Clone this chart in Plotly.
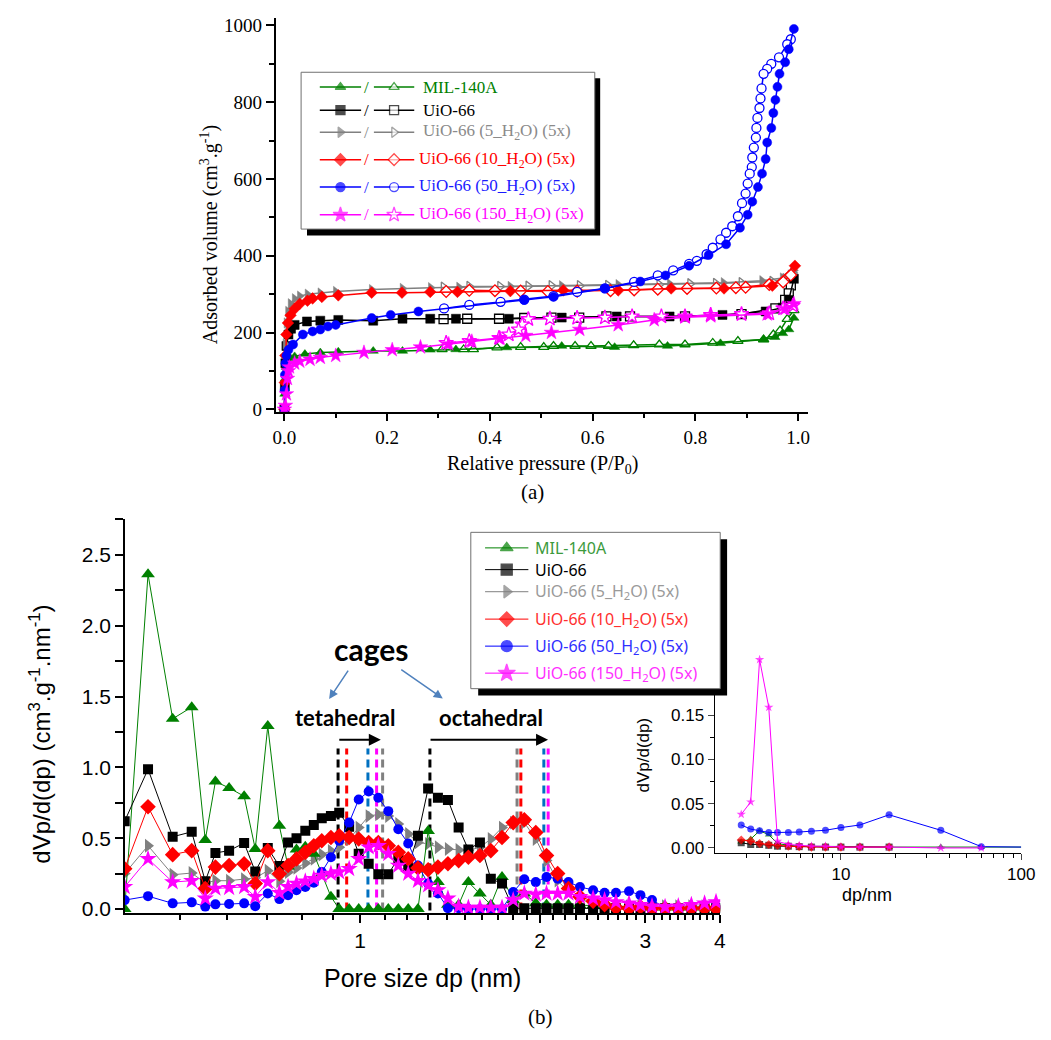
import plotly.graph_objects as go

W, H = 1051, 1040

# ================= (a) N2 isotherms: adsorption (filled) / desorption (open) =================
mil_ads_p = [0.0, 0.001, 0.002, 0.004, 0.007, 0.012, 0.02, 0.04, 0.07, 0.105, 0.173, 0.23, 0.284, 0.334, 0.433, 0.54, 0.643, 0.746, 0.849, 0.933, 0.955, 0.97, 0.982, 0.992]
mil_ads_v = [0, 40, 80, 110, 125, 133, 138, 144, 148, 150, 152, 152, 155, 156, 161, 165, 162, 165, 172, 182, 188, 198, 208, 238]
mil_des_p = [0.992, 0.979, 0.965, 0.952, 0.933, 0.883, 0.834, 0.78, 0.73, 0.68, 0.631, 0.597, 0.566, 0.524, 0.505, 0.46, 0.414, 0.368, 0.349, 0.307]
mil_des_v = [258, 235, 205, 195, 182, 178, 173, 169, 169, 167, 165, 165, 165, 165, 162, 162, 161, 156, 156, 156]

uio_ads_p = [0.0, 0.001, 0.002, 0.004, 0.008, 0.013, 0.02, 0.044, 0.07, 0.105, 0.173, 0.23, 0.284, 0.334, 0.437, 0.54, 0.647, 0.75, 0.853, 0.937, 0.97, 0.982, 0.992]
uio_ads_v = [0, 60, 120, 165, 195, 210, 220, 229, 231, 233, 231, 236, 236, 236, 236, 239, 242, 242, 246, 255, 265, 285, 340]
uio_des_p = [0.986, 0.982, 0.975, 0.956, 0.89, 0.78, 0.673, 0.627, 0.574, 0.52, 0.467, 0.418, 0.356, 0.31]
uio_des_v = [323, 302, 285, 263, 248, 242, 242, 242, 239, 239, 238, 236, 236, 235]

h5_ads_p = [0.0, 0.001, 0.002, 0.004, 0.007, 0.012, 0.02, 0.03, 0.045, 0.07, 0.1, 0.17, 0.23, 0.285, 0.34, 0.44, 0.54, 0.65, 0.75, 0.855, 0.93, 0.97, 0.985, 0.992]
h5_ads_v = [0, 90, 170, 225, 255, 275, 288, 295, 300, 303, 307, 312, 315, 317, 318, 320, 322, 325, 327, 330, 335, 342, 350, 362]
h5_des_p = [0.99, 0.975, 0.95, 0.89, 0.84, 0.79, 0.73, 0.68, 0.63, 0.575, 0.52, 0.475, 0.42, 0.36, 0.31]
h5_des_v = [355, 340, 333, 330, 328, 327, 325, 324, 323, 322, 322, 321, 320, 320, 318]

h10_ads_p = [0.0, 0.001, 0.002, 0.004, 0.007, 0.012, 0.02, 0.03, 0.045, 0.055, 0.073, 0.105, 0.17, 0.229, 0.284, 0.337, 0.44, 0.543, 0.65, 0.753, 0.856, 0.95, 0.994]
h10_ads_v = [0, 70, 140, 195, 225, 245, 262, 275, 283, 289, 293, 297, 304, 304, 306, 306, 308, 310, 310, 315, 315, 322, 374]
h10_des_p = [0.986, 0.971, 0.944, 0.898, 0.879, 0.841, 0.784, 0.727, 0.681, 0.635, 0.57, 0.513, 0.46, 0.41, 0.36, 0.315]
h10_des_v = [350, 332, 325, 318, 317, 316, 315, 313, 311, 309, 308, 307, 308, 309, 310, 307]

h50_ads_p = [0.0, 0.0005, 0.001, 0.002, 0.004, 0.008, 0.017, 0.036, 0.055, 0.07, 0.085, 0.1, 0.17, 0.207, 0.261, 0.467, 0.524, 0.624, 0.693, 0.742, 0.788, 0.826, 0.86, 0.887, 0.902, 0.911, 0.922, 0.93, 0.937, 0.94, 0.948, 0.952, 0.956, 0.96, 0.964, 0.975, 0.982, 0.992]
h50_ads_v = [0, 50, 90, 120, 140, 155, 169, 195, 203, 208, 216, 220, 238, 246, 255, 285, 293, 315, 333, 349, 374, 402, 430, 473, 507, 541, 579, 614, 652, 695, 733, 772, 806, 840, 874, 904, 938, 991]
h50_des_p = [0.986, 0.979, 0.963, 0.948, 0.94, 0.933, 0.929, 0.927, 0.925, 0.921, 0.919, 0.918, 0.914, 0.911, 0.91, 0.906, 0.902, 0.898, 0.891, 0.883, 0.872, 0.86, 0.849, 0.834, 0.822, 0.803, 0.788, 0.757, 0.727, 0.681, 0.624, 0.57, 0.524, 0.467, 0.421, 0.36, 0.311]
h50_des_v = [964, 951, 917, 900, 887, 874, 836, 810, 785, 759, 733, 708, 682, 656, 631, 614, 588, 562, 537, 503, 477, 460, 443, 421, 404, 387, 379, 362, 349, 332, 315, 306, 295, 286, 280, 272, 263]

h150_ads_p = [0.0, 0.002, 0.004, 0.006, 0.008, 0.01, 0.02, 0.03, 0.05, 0.07, 0.1, 0.155, 0.21, 0.265, 0.32, 0.365, 0.42, 0.47, 0.52, 0.575, 0.65, 0.72, 0.78, 0.83, 0.94, 0.975, 0.992]
h150_ads_v = [0, 10, 40, 80, 100, 110, 120, 125, 130, 135, 140, 148, 155, 162, 170, 177, 185, 192, 200, 208, 220, 233, 240, 243, 248, 262, 275]
h150_des_p = [0.99, 0.971, 0.944, 0.89, 0.83, 0.78, 0.734, 0.677, 0.624, 0.57, 0.517, 0.475, 0.463, 0.456, 0.437, 0.418, 0.36, 0.315]
h150_des_v = [270, 263, 250, 248, 246, 242, 242, 242, 239, 238, 236, 235, 221, 208, 195, 186, 178, 173]

# ================= (b) pore size distributions =================
psd_dp = [0.404, 0.442, 0.486, 0.523, 0.551, 0.573, 0.604, 0.640, 0.668, 0.701, 0.733, 0.758, 0.783,
          0.810, 0.837, 0.863, 0.894, 0.923, 0.959, 0.995, 1.034, 1.073, 1.115, 1.159, 1.204, 1.250,
          1.300, 1.350, 1.403, 1.462, 1.518, 1.587, 1.655, 1.728, 1.804, 1.883, 1.968, 2.051, 2.141,
          2.232, 2.333, 2.454, 2.565, 2.680, 2.818, 2.945, 3.079, 3.238, 3.407, 3.583, 3.770, 3.940]
psd_mil = [0.0, 2.363, 1.343, 1.425, 0.487, 0.90, 0.855, 0.796, 0.424, 1.292, 0.587, 0.30, 0.42,
           0.44, 0.39, 0.25, 0.087, 0, 0, 0, 0, 0, 0, 0, 0, 0,
           0.55, 0.19, 0.03, 0.03, 0.19, 0.11, 0.03, 0.226, 0.063, 0.11, 0.04, 0.03, 0.03,
           0.03, 0.025, 0.025, 0.02, 0.02, 0.015, 0.015, 0.01, 0.01, 0.01, 0.01, 0.01, 0.01]
psd_uio = [0.62, 0.987, 0.51, 0.545, 0.196, 0.396, 0.412, 0.466, 0.265, 0.43, 0.303, 0.47, 0.50,
           0.552, 0.594, 0.64, 0.657, 0.68, 0.58, 0.39, 0.32, 0.245, 0.245, 0.36, 0.30, 0.517,
           0.85, 0.785, 0.77, 0.575, 0.42, 0.47, 0.214, 0.18, 0.005, 0.005, 0.005, 0.005, 0.005,
           0.005, 0.005, 0.005, 0.005, 0.005, 0.005, 0.005, 0.005, 0.005, 0.005, 0.005, 0.005, 0.005]
psd_h5 = [0.25, 0.447, 0.242, 0.254, 0.184, 0.20, 0.20, 0.21, 0.22, 0.27, 0.196, 0.26, 0.29,
          0.324, 0.355, 0.385, 0.41, 0.436, 0.494, 0.575, 0.656, 0.668, 0.656, 0.60, 0.53, 0.47,
          0.46, 0.436, 0.424, 0.417, 0.413, 0.436, 0.494, 0.575, 0.61, 0.61, 0.494, 0.342, 0.20,
          0.12, 0.07, 0.04, 0.03, 0.02, 0.02, 0.02, 0.02, 0.02, 0.02, 0.02, 0.02, 0.02]
psd_h10 = [0.284, 0.722, 0.384, 0.412, 0.145, 0.296, 0.307, 0.319, 0.18, 0.412, 0.249, 0.307, 0.354,
           0.40, 0.447, 0.482, 0.505, 0.517, 0.505, 0.494, 0.47, 0.47, 0.447, 0.40, 0.354, 0.29,
           0.277, 0.296, 0.32, 0.342, 0.366, 0.378, 0.412, 0.505, 0.61, 0.63, 0.54, 0.378, 0.25,
           0.145, 0.087, 0.055, 0.03, 0.01, 0.005, 0.015, 0.005, 0.005, 0.005, 0.005, 0.005, 0.005]
psd_h50 = [0.063, 0.091, 0.04, 0.047, 0.017, 0.033, 0.035, 0.04, 0.02, 0.11, 0.07, 0.098, 0.133,
           0.156, 0.186, 0.261, 0.366, 0.482, 0.61, 0.773, 0.83, 0.785, 0.691, 0.563, 0.463, 0.307,
           0.18, 0.11, 0.005, 0.005, 0.0, 0.0, 0.0, 0.0, 0.12, 0.21, 0.19, 0.226, 0.214,
           0.19, 0.156, 0.133, 0.115, 0.115, 0.126, 0.098, 0.063, 0.01, 0.01, 0.01, 0.01, 0.015]
psd_h150 = [0.156, 0.354, 0.19, 0.2, 0.075, 0.145, 0.15, 0.156, 0.087, 0.19, 0.115, 0.156, 0.18,
            0.196, 0.214, 0.237, 0.25, 0.261, 0.284, 0.354, 0.436, 0.447, 0.39, 0.307, 0.25, 0.20,
            0.168, 0.133, 0.075, 0.017, 0.01, 0.01, 0.01, 0.01, 0.063, 0.11, 0.103, 0.11, 0.11,
            0.11, 0.087, 0.075, 0.063, 0.05, 0.04, 0.03, 0.02, 0.015, 0.02, 0.03, 0.04, 0.05]

# inset (mesopore range)
ins_dp = [2.8, 3.16, 3.54, 3.98, 4.45, 5.11, 5.87, 6.86, 8.21, 10.0, 12.74, 18.5, 35.8, 60.0, 100.0]
ins_mil = [0.007, 0.01, 0.0195, 0.015, 0.005, 0.003, 0.002, 0.002, 0.002, 0.0015, 0.0015, 0.001, 0.001, 0.001, 0.001]
ins_uio = [0.006, 0.004, 0.004, 0.003, 0.002, 0.002, 0.0015, 0.001, 0.001, 0.001, 0.001, 0.001]
ins_h10 = [0.009, 0.008, 0.005, 0.004, 0.003, 0.002, 0.0015, 0.001, 0.001, 0.001, 0.001, 0.001]
ins_h50 = [0.026, 0.0213, 0.0195, 0.0175, 0.0175, 0.0175, 0.018, 0.019, 0.02, 0.023, 0.026, 0.0375, 0.02, 0.0015, 0.001]
ins_h150 = [0.038, 0.052, 0.213, 0.159, 0.0075, 0.004, 0.003, 0.002, 0.002, 0.001, 0.001, 0.001, 0.0, 0.0]
ins_yticks = [0.0, 0.05, 0.10, 0.15]

# cage-size reference lines (nm)
tet_lines = [0.919, 0.950, 1.031, 1.066, 1.091]
tet_colors = ["#000000", "#ff0000", "#0070c0", "#ff00ff", "#808080"]
oct_lines = [1.309, 1.831, 1.858, 2.030, 2.064]
oct_colors = ["#000000", "#808080", "#ff0000", "#0070c0", "#ff00ff"]
cage_line_top = 1.134

labels = ["MIL-140A", "UiO-66", "UiO-66 (5_H<sub>2</sub>O) (5x)", "UiO-66 (10_H<sub>2</sub>O) (5x)",
          "UiO-66 (50_H<sub>2</sub>O) (5x)", "UiO-66 (150_H<sub>2</sub>O) (5x)"]
colors = ["#008000", "#000000", "#808080", "#ff0000", "#0000ff", "#ff00ff"]
symbols = ["triangle-up", "square", "triangle-right", "diamond", "circle", "star"]

SERIF = "Liberation Serif"
SANS = "Liberation Sans"


def px(x):
    return x / W


def py(y):
    return 1 - y / H


fig = go.Figure()

# ---------- (a) ----------
iso = [(mil_ads_p, mil_ads_v, mil_des_p, mil_des_v),
       (uio_ads_p, uio_ads_v, uio_des_p, uio_des_v),
       (h5_ads_p, h5_ads_v, h5_des_p, h5_des_v),
       (h10_ads_p, h10_ads_v, h10_des_p, h10_des_v),
       (h50_ads_p, h50_ads_v, h50_des_p, h50_des_v),
       (h150_ads_p, h150_ads_v, h150_des_p, h150_des_v)]
for i, (ap, av, dp_, dv) in enumerate(iso):
    c = colors[i]
    sz = 11 if symbols[i] == "star" else 9
    fig.add_trace(go.Scatter(x=dp_, y=dv, mode="lines+markers", xaxis="x", yaxis="y",
                             line=dict(color=c, width=1.5),
                             marker=dict(symbol=symbols[i], size=sz, color="white", line=dict(color=c, width=1.3)),
                             showlegend=False, hoverinfo="skip"))
    fig.add_trace(go.Scatter(x=ap, y=av, mode="lines+markers", xaxis="x", yaxis="y",
                             line=dict(color=c, width=1.5),
                             marker=dict(symbol=symbols[i], size=sz, color=c, line=dict(color=c, width=0.5)),
                             showlegend=False, hoverinfo="skip"))

# ---------- (b) main ----------
for dp_x, col in zip(tet_lines + oct_lines, tet_colors + oct_colors):
    fig.add_trace(go.Scatter(x=[dp_x, dp_x], y=[-0.01, cage_line_top], mode="lines", xaxis="x2", yaxis="y2",
                             line=dict(color=col, width=3, dash="8px,5px"), showlegend=False, hoverinfo="skip"))

psd = [psd_mil, psd_uio, psd_h5, psd_h10, psd_h50, psd_h150]
order = [2, 0, 1, 4, 3, 5]
for i in order:
    c = colors[i]
    sz = {"triangle-up": 12, "square": 10, "triangle-right": 12, "diamond": 12, "circle": 10, "star": 13}[symbols[i]]
    fig.add_trace(go.Scatter(x=psd_dp, y=psd[i], mode="lines+markers", xaxis="x2", yaxis="y2",
                             line=dict(color=c, width=1),
                             marker=dict(symbol=symbols[i], size=sz, color=c, line=dict(width=0)),
                             showlegend=False, hoverinfo="skip"))

# ---------- (b) inset ----------
ins = [(ins_mil, 0), (ins_uio, 1), (ins_h50, 4), (ins_h10, 3), (ins_h150, 5)]
for vals, i in ins:
    c = colors[i]
    xs = ins_dp[:len(vals)]
    sizes = [7 if x < 99 else 0 for x in xs]
    fig.add_trace(go.Scatter(x=xs, y=vals, mode="lines+markers", xaxis="x3", yaxis="y3",
                             line=dict(color=c, width=1),
                             marker=dict(symbol=symbols[i], size=sizes, color=c, line=dict(width=0)),
                             showlegend=False, hoverinfo="skip"))

# ---------- custom legends (pixel overlay axes) ----------
def rect(x0, y0, x1, y1, fill, line_col, lw):
    fig.add_trace(go.Scatter(x=[x0, x1, x1, x0, x0], y=[y0, y0, y1, y1, y0], mode="lines", fill="toself",
                             fillcolor=fill, line=dict(color=line_col, width=lw), xaxis="x4", yaxis="y4",
                             showlegend=False, hoverinfo="skip"))


def glyph(x0, x1, y, c, sym, sz, fillc, lw):
    fig.add_trace(go.Scatter(x=[x0, (x0 + x1) / 2, x1], y=[y, y, y], mode="lines+markers", xaxis="x4", yaxis="y4",
                             line=dict(color=c, width=lw),
                             marker=dict(symbol=sym, size=[0, sz, 0], color=fillc, line=dict(color=c, width=[0, 1.3, 0])),
                             showlegend=False, hoverinfo="skip"))


# legend (a)
rect(309, 76, 607, 235, "black", "black", 0)
rect(303, 70, 601.5, 228.5, "white", "#707070", 1)
rows_a = [85, 108.3, 130.7, 158.3, 186, 214]
for i, yy in enumerate(rows_a):
    sz = 11 if symbols[i] == "star" else 9
    glyph(322, 364, yy, colors[i], symbols[i], sz, colors[i], 1.5)
    glyph(377, 418, yy, colors[i], symbols[i], sz, "white", 1.5)

# legend (b)
rect(483, 542, 736, 700, "black", "black", 0)
rect(475.5, 535, 729, 693, "white", "#707070", 1)
rows_b = [550.7, 572.7, 595, 622.7, 650, 677.3]
for i, yy in enumerate(rows_b):
    sz = 13 if symbols[i] == "star" else 11
    glyph(490, 534, yy, colors[i], symbols[i], sz, colors[i], 1)


def label(x, y, text, family, size, color="black", angle=0, xanchor="center", yanchor="middle"):
    return dict(x=px(x), y=py(y), xref="paper", yref="paper", text=text, showarrow=False, textangle=angle,
                font=dict(family=family, size=size, color=color), xanchor=xanchor, yanchor=yanchor)


annotations = []
leg_text_cols_a = ["#008000", "#000000", "#8a8a8a", "#ff0000", "#1a1aff", "#ff00ff"]
for i, yy in enumerate(rows_a):
    annotations.append(label(369.5, yy, "/", SERIF, 17, leg_text_cols_a[i]))
    annotations.append(label(425 if i < 3 else 421, yy, labels[i], SERIF, 17, leg_text_cols_a[i], xanchor="left"))
leg_text_cols_b = ["#3c9a3c", "#000000", "#9a9a9a", "#ff3030", "#3030ff", "#ff30ff"]
for i, yy in enumerate(rows_b):
    annotations.append(label(539, yy, labels[i], "Noto Sans", 16, leg_text_cols_b[i], xanchor="left"))

annotations += [
    label(210, 234, "Adsorbed volume (cm<sup>3</sup>.g<sup>-1</sup>)", SERIF, 20, angle=-90),
    label(548, 466, "Relative pressure (P/P<sub>0</sub>)", SERIF, 20),
    label(538, 494, "(a)", SERIF, 21),
    label(546, 1025, "(b)", SERIF, 21),
    label(38, 872, "dVp/d(dp) (cm<sup>3</sup>.g<sup>-1</sup>.nm<sup>-1</sup>)", SANS, 24, angle=-90,
          yanchor="bottom"),
    label(426, 985, "Pore size dp (nm)", SANS, 25),
    label(651, 800, "dVp/d(dp)", SANS, 17, angle=-90, yanchor="bottom"),
    label(878, 902, "dp/nm", SANS, 18),
    label(374, 653, "<b>cages</b>", "Lato", 30),
    label(348, 722, "<b>tetahedral</b>", "Lato", 22),
    label(496, 722, "<b>octahedral</b>", "Lato", 22),
]
arrows = [
    dict(x=px(384), y=py(744.5), ax=-43, ay=0, arrowwidth=2, arrowcolor="black"),
    dict(x=px(554), y=py(744.5), ax=-119, ay=0, arrowwidth=2, arrowcolor="black"),
    dict(x=px(331.5), y=py(703.5), ax=20, ay=-30, arrowwidth=1.5, arrowcolor="#4f81bd"),
    dict(x=px(447), y=py(703), ax=-43, ay=-30, arrowwidth=1.5, arrowcolor="#4f81bd"),
]
for a in arrows:
    a.update(xref="paper", yref="paper", text="", showarrow=True, arrowhead=2, arrowsize=1.2)
    annotations.append(a)

axis_common = dict(showline=True, linecolor="black", linewidth=1.5, ticks="outside", tickcolor="black",
                   showgrid=False, zeroline=False, mirror=False)

fig.update_layout(
    width=W, height=H, margin=dict(l=0, r=0, t=0, b=0),
    paper_bgcolor="white", plot_bgcolor="rgba(0,0,0,0)", showlegend=False,
    xaxis=dict(domain=[px(277), px(818)], range=[-0.0172, 1.019], anchor="y", dtick=0.2, tick0=0,
               tickformat=".1f", ticklen=8, tickwidth=1.5,
               minor=dict(dtick=0.1, tick0=0, ticks="outside", ticklen=5, tickcolor="black"),
               tickfont=dict(family=SERIF, size=19, color="black"), **axis_common),
    yaxis=dict(domain=[py(413), py(15)], range=[-5.9, 1019.8], anchor="x", dtick=200, tick0=0,
               ticklen=8, tickwidth=1.5,
               minor=dict(dtick=100, tick0=0, ticks="outside", ticklen=5, tickcolor="black"),
               tickfont=dict(family=SERIF, size=19, color="black"), **axis_common),
    xaxis2=dict(domain=[px(124), px(729)], type="log", range=[-0.3931, 0.6025], anchor="y2",
                tickmode="array", tickvals=[1, 2, 3, 4], ticktext=["1", "2", "3", "4"], ticklen=8, tickwidth=1.5,
                minor=dict(tickmode="array",
                           tickvals=[0.5, 0.6, 0.7, 0.8, 0.9, 1.1, 1.2, 1.3, 1.4, 1.5, 1.6, 1.7, 1.8, 1.9,
                                     2.1, 2.2, 2.3, 2.4, 2.5, 2.6, 2.7, 2.8, 2.9,
                                     3.1, 3.2, 3.3, 3.4, 3.5, 3.6, 3.7, 3.8, 3.9],
                           ticks="outside", ticklen=5, tickcolor="black"),
                tickfont=dict(family=SANS, size=21, color="black"), **axis_common),
    yaxis2=dict(domain=[py(920), py(522)], range=[-0.03, 2.75], anchor="x2", dtick=0.5, tick0=0,
                tickformat=".1f", ticklen=8, tickwidth=1.5,
                minor=dict(dtick=0.25, tick0=0, ticks="outside", ticklen=8, tickcolor="black"),
                tickfont=dict(family=SANS, size=21, color="black"), **axis_common),
    xaxis3=dict(domain=[px(723.3), px(1035)], type="log", range=[0.2995, 2.0], anchor="y3",
                tickmode="array", tickvals=[10, 100], ticktext=["10", "100"], ticklen=6, tickwidth=1,
                minor=dict(tickmode="array",
                           tickvals=[3, 4, 5, 6, 7, 8, 9, 20, 30, 40, 50, 60, 70, 80, 90],
                           ticks="outside", ticklen=4, tickcolor="black"),
                tickfont=dict(family=SANS, size=17, color="black"),
                showline=True, linecolor="black", linewidth=1, ticks="outside", showgrid=False, zeroline=False),
    yaxis3=dict(domain=[py(859), py(645)], range=[-0.0056, 0.2338], anchor="x3",
                tickmode="array", tickvals=ins_yticks, ticktext=["%.2f" % v for v in ins_yticks],
                ticklen=6, tickwidth=1,
                minor=dict(dtick=0.025, tick0=0, ticks="outside", ticklen=4, tickcolor="black"),
                tickfont=dict(family=SANS, size=17, color="black"),
                showline=True, linecolor="black", linewidth=1, ticks="outside", showgrid=False, zeroline=False),
    xaxis4=dict(domain=[0, 1], range=[0, W], anchor="y4", visible=False, fixedrange=True),
    yaxis4=dict(domain=[0, 1], range=[H, 0], anchor="x4", visible=False, fixedrange=True),
    annotations=annotations,
)

fig.write_html("out.html")
